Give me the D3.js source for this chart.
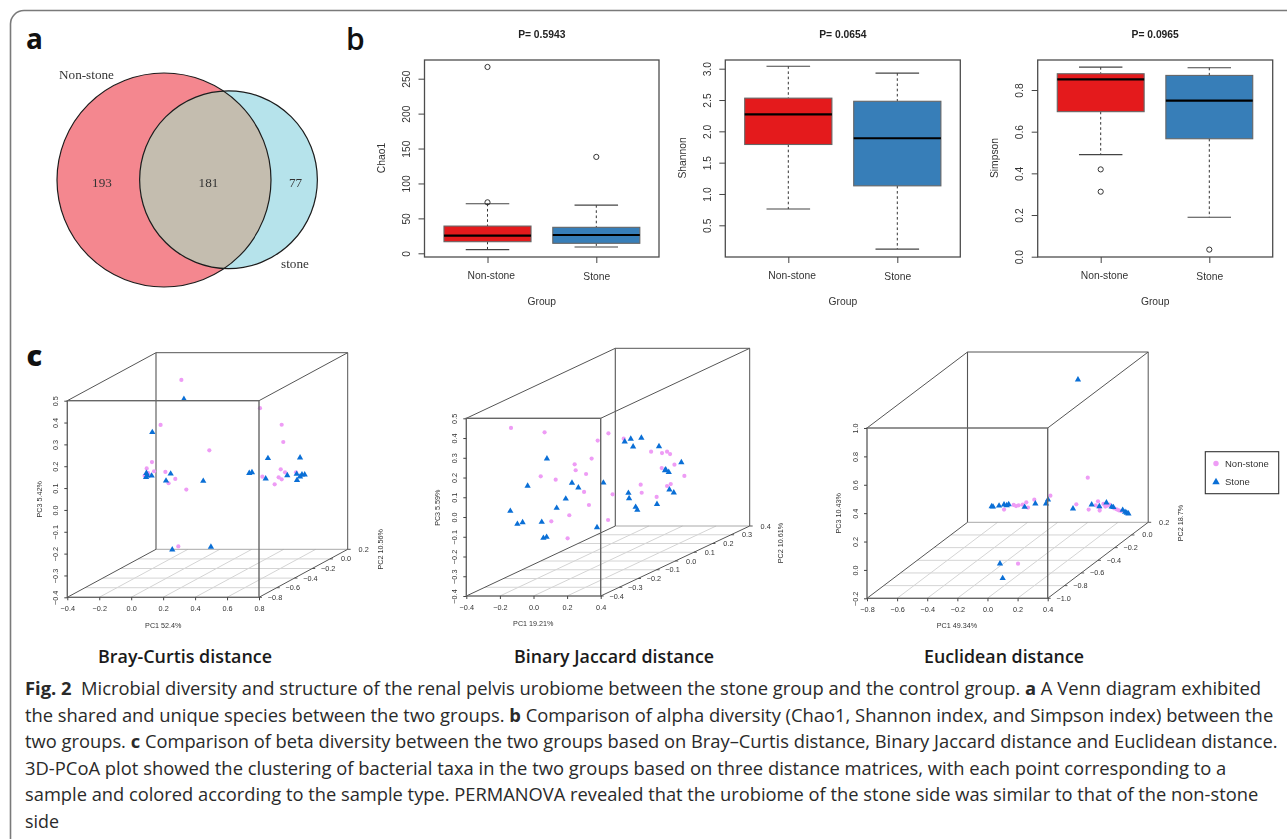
<!DOCTYPE html>
<html><head><meta charset="utf-8">
<script src="https://cdnjs.cloudflare.com/ajax/libs/d3/7.8.5/d3.min.js"></script>
<style>
html,body{margin:0;padding:0;background:#fff;overflow:hidden}
svg{display:block}
.plot{filter:blur(0.35px)}
.r text{font-family:"Liberation Sans",Arial,sans-serif}
</style></head><body>
<svg id="c" width="1287" height="839"></svg>
<script>
// ---------- data ----------
const vennNames = ["Non-stone", "stone"];
const vennCounts = [193, 181, 77];

const groups = ["Non-stone", "Stone"];
// [lower whisker, q1, median, q3, upper whisker, outliers]
const chao1Box = [[5.2, 16.6, 25.2, 39, 71, [266.8, 73]], [9, 14.3, 26.2, 37.2, 69, [138]]];
const shannonBox = [[0.76, 1.79, 2.27, 2.53, 3.04, []], [0.12, 1.13, 1.89, 2.48, 2.93, []]];
const simpsonBox = [[0.49, 0.696, 0.851, 0.878, 0.91, [0.419, 0.312]], [0.189, 0.566, 0.749, 0.87, 0.907, [0.034]]];

// [PC1, PC3] as read against the front face of each cube
const brayNon = [[0.314,0.595],[0.806,0.466],[0.184,0.389],[0.942,0.390],[0.952,0.311],[0.489,0.273],[0.130,0.219],[0.097,0.190],[0.143,0.177],[0.214,0.174],[0.105,0.170],[0.093,0.158],[0.113,0.161],[0.084,0.157],[0.276,0.142],[0.234,0.122],[0.345,0.093],[0.295,-0.167],[0.936,0.186],[0.963,0.172],[1.032,0.172],[0.821,0.152],[0.923,0.149],[0.942,0.140],[0.898,0.117]];
const brayStone = [[0.330,0.506],[0.132,0.354],[0.856,0.235],[1.057,0.238],[0.095,0.167],[0.093,0.149],[0.101,0.155],[0.128,0.155],[0.247,0.164],[0.218,0.132],[0.451,0.131],[0.739,0.167],[0.756,0.170],[0.842,0.142],[0.977,0.157],[1.036,0.163],[1.069,0.160],[1.086,0.160],[1.057,0.151],[1.038,0.135],[0.257,-0.183],[0.499,-0.171]];
const jaccardNon = [[-0.134,0.451],[0.066,0.429],[0.382,0.387],[0.446,0.424],[0.537,0.397],[0.346,0.296],[0.245,0.267],[0.251,0.237],[0.313,0.218],[0.043,0.206],[0.132,0.189],[0.301,0.127],[0.471,0.115],[0.330,0.061],[0.213,0.009],[0.106,-0.022],[0.444,-0.015],[0.203,-0.108],[0.700,0.331],[0.765,0.324],[0.795,0.331],[0.813,0.319],[0.839,0.265],[0.763,0.248],[0.898,0.208],[0.638,0.164],[0.817,0.167],[0.795,0.157],[0.644,0.123],[0.733,0.102]];
const jaccardStone = [[0.080,0.294],[-0.035,0.156],[-0.138,0.029],[-0.096,-0.037],[-0.065,-0.029],[0.049,-0.027],[0.059,-0.108],[0.078,-0.103],[0.138,0.044],[0.192,0.091],[0.229,0.171],[0.267,0.147],[0.416,0.172],[0.378,-0.054],[0.543,0.380],[0.579,0.394],[0.593,0.355],[0.642,0.399],[0.747,0.356],[0.880,0.275],[0.787,0.238],[0.783,0.235],[0.805,0.226],[0.809,0.137],[0.835,0.122],[0.565,0.120],[0.569,0.093],[0.608,0.049],[0.618,0.034],[0.735,0.064]];
const euclidNon = [[0.666,0.650],[0.418,0.523],[0.311,0.495],[0.258,0.476],[0.234,0.460],[0.207,0.455],[0.190,0.450],[0.174,0.458],[0.269,0.439],[0.110,0.425],[0.590,0.462],[0.672,0.425],[0.719,0.455],[0.734,0.483],[0.745,0.436],[0.745,0.418],[0.770,0.465],[0.783,0.446],[0.796,0.453],[0.810,0.460],[0.841,0.434],[0.858,0.427],[0.872,0.420],[0.887,0.415],[0.203,0.044]];
const euclidStone = [[0.601,1.338],[0.402,0.493],[0.389,0.465],[0.318,0.465],[0.247,0.441],[0.141,0.460],[0.128,0.453],[0.110,0.458],[0.077,0.450],[0.037,0.443],[0.028,0.446],[0.568,0.429],[0.692,0.458],[0.743,0.446],[0.790,0.472],[0.825,0.443],[0.836,0.439],[0.898,0.420],[0.914,0.406],[0.925,0.399],[0.936,0.394],[0.083,0.042],[0.101,-0.061]];

const zTicksWide = [-0.4,-0.3,-0.2,-0.1,0,0.1,0.2,0.3,0.4,0.5];
const legendNames = ["Non-stone", "Stone"];
const captionRuns = [
  [["Fig. 2",1],["  Microbial diversity and structure of the renal pelvis urobiome between the stone group and the control group. ",0],["a",1],[" A Venn diagram exhibited",0]],
  [["the shared and unique species between the two groups. ",0],["b",1],[" Comparison of alpha diversity (Chao1, Shannon index, and Simpson index) between the",0]],
  [["two groups. ",0],["c",1],[" Comparison of beta diversity between the two groups based on Bray\u2013Curtis distance, Binary Jaccard distance and Euclidean distance.",0]],
  [["3D-PCoA plot showed the clustering of bacterial taxa in the two groups based on three distance matrices, with each point corresponding to a",0]],
  [["sample and colored according to the sample type. PERMANOVA revealed that the urobiome of the stone side was similar to that of the non-stone",0]],
  [["side",0]]
];
// ---------- drawing ----------
const svg = d3.select("#c");
const SANS = '"Liberation Sans",Arial,sans-serif', SERIF = '"Liberation Serif",serif', OPEN = '"Open Sans","Noto Sans",sans-serif';
const INK = "#333";

// frame
svg.append("path").attr("d", "M10.5,839V24A13.5,13.5 0 0 1 24,10.5H1287").attr("fill", "none").attr("stroke", "#7a7a7a").attr("stroke-width", 1.6);

// panel letters
[["a",26,48.5,700,28],["b",346,49.5,600,30],["c",26.5,365.5,800,29]].forEach(([t,x,y,w,s]) =>
  svg.append("text").attr("x",x).attr("y",y).text(t).attr("font-family",OPEN).attr("font-size",s).attr("font-weight",w).attr("fill","#111"));

// ---------- Venn ----------
(function () {
  const g = svg.append("g").attr("class","plot");
  const r = d3.scaleSqrt().domain([0, vennCounts[0] + vennCounts[1]]).range([0, 107]);
  const cA = {x:164, y:180, r:r(vennCounts[0]+vennCounts[1])};
  const cB = {x:228.5, y:179.7, r:r(vennCounts[1]+vennCounts[2])};
  svg.append("clipPath").attr("id","clipA").append("circle").attr("cx",cA.x).attr("cy",cA.y).attr("r",cA.r);
  g.append("circle").attr("cx",cA.x).attr("cy",cA.y).attr("r",cA.r).attr("fill","#f4878f");
  g.append("circle").attr("cx",cB.x).attr("cy",cB.y).attr("r",cB.r).attr("fill","#b6e3eb");
  g.append("circle").attr("cx",cB.x).attr("cy",cB.y).attr("r",cB.r).attr("fill","#c4bdaf").attr("clip-path","url(#clipA)");
  [cA,cB].forEach(c => g.append("circle").attr("cx",c.x).attr("cy",c.y).attr("r",c.r).attr("fill","none").attr("stroke","#1c1c1c").attr("stroke-width",1.2));
  const t = (s,x,y) => g.append("text").attr("x",x).attr("y",y).attr("text-anchor","middle").attr("font-family",SERIF).attr("font-size",13.2).attr("fill","#333").text(s);
  t(vennNames[0],86.5,79);
  t(vennNames[1],295,268);
  t(vennCounts[0],102,187);
  t(vennCounts[1],208.5,187);
  t(vennCounts[2],295.5,187);
})();

// ---------- box plots ----------
function boxPanel(o) {
  const g = svg.append("g").attr("class","plot r");
  const top = 60, bottom = 257;
  const x = d3.scalePoint().domain(groups).range(o.centers);
  const unit = o.centers[1] - o.centers[0];
  const y = d3.scaleLinear().domain(o.ydom).range(o.yrange);
  const colors = ["#e41a1c", "#377eb8"];
  o.data.forEach((d, i) => {
    const cx = x(groups[i]), hw = unit * 0.4, cap = unit * 0.2;
    const [lo, q1, med, q3, hi, out] = d;
    g.append("line").attr("x1",cx).attr("x2",cx).attr("y1",y(hi)).attr("y2",y(q3)).attr("stroke","#333").attr("stroke-dasharray","2.6,2.6");
    g.append("line").attr("x1",cx).attr("x2",cx).attr("y1",y(q1)).attr("y2",y(lo)).attr("stroke","#333").attr("stroke-dasharray","2.6,2.6");
    [lo, hi].forEach(v => g.append("line").attr("x1",cx-cap).attr("x2",cx+cap).attr("y1",y(v)).attr("y2",y(v)).attr("stroke","#444").attr("stroke-width",1.1));
    g.append("rect").attr("x",cx-hw).attr("width",2*hw).attr("y",y(q3)).attr("height",y(q1)-y(q3)).attr("fill",colors[i]).attr("stroke","#666").attr("stroke-width",1.1);
    g.append("line").attr("x1",cx-hw).attr("x2",cx+hw).attr("y1",y(med)).attr("y2",y(med)).attr("stroke","#000").attr("stroke-width",2.2);
    out.forEach(v => g.append("circle").attr("cx",cx).attr("cy",y(v)).attr("r",2.6).attr("fill","none").attr("stroke","#333").attr("stroke-width",1));
  });
  g.append("rect").attr("x",o.left).attr("y",top).attr("width",o.width).attr("height",bottom-top).attr("fill","none").attr("stroke","#4d4d4d").attr("stroke-width",1.3);
  // axes
  const ya = g.append("g").attr("transform",`translate(${o.left},0)`).call(d3.axisLeft(y).tickValues(o.ticks).tickFormat(o.fmt).tickSize(6));
  ya.select(".domain").remove();
  ya.selectAll("line").attr("stroke","#444");
  ya.selectAll("text").attr("transform","rotate(-90)").attr("x",0).attr("y",-14.8).attr("dy",0).attr("text-anchor","middle").attr("fill",INK).attr("font-size",10.3).attr("font-family",SANS);
  const xa = g.append("g").attr("transform",`translate(0,${bottom})`).call(d3.axisBottom(x).tickSize(6));
  xa.select(".domain").remove();
  xa.selectAll("line").attr("stroke","#444");
  xa.selectAll("text").attr("y",0).attr("dy",0)
    .attr("transform",(d,i)=>`translate(${i===0?3.3:0},${i===0?22:23})`)
    .attr("fill",INK).attr("font-size",10.3).attr("font-family",SANS);
  const mid = o.left + o.width/2;
  g.append("text").attr("x",mid).attr("y",304.5).attr("text-anchor","middle").attr("font-size",10.3).attr("fill",INK).text("Group");
  g.append("text").attr("x",mid).attr("y",37.5).attr("text-anchor","middle").attr("font-size",10.3).attr("font-weight",700).attr("fill","#222").text(o.title);
  g.append("text").attr("transform",`translate(${o.labelX},158) rotate(-90)`).attr("text-anchor","middle").attr("font-size",10.3).attr("fill",INK).text(o.label);
}
boxPanel({left:424.5,width:234.5,centers:[487.5,596.3],ydom:[0,250],yrange:[253.3,78.7],ticks:[0,50,100,150,200,250],fmt:d3.format("d"),data:chao1Box,title:"P= 0.5943",label:"Chao1",labelX:385});
boxPanel({left:725.3,width:235,centers:[788.3,897.3],ydom:[0.5,3],yrange:[225.3,68.7],ticks:[0.5,1,1.5,2,2.5,3],fmt:d3.format(".1f"),data:shannonBox,title:"P= 0.0654",label:"Shannon",labelX:686});
boxPanel({left:1037.7,width:235,centers:[1100.7,1209.3],ydom:[0,0.8],yrange:[256.7,90],ticks:[0,0.2,0.4,0.6,0.8],fmt:d3.format(".1f"),data:simpsonBox,title:"P= 0.0965",label:"Simpson",labelX:998});

// ---------- 3D PCoA panels ----------
const PINK = "#ee9cf5", BLUE = "#0a6fd6";
const tri = d3.symbol().type(d3.symbolTriangle).size(17);
function pcoa(o) {
  const g = svg.append("g").attr("class","plot r");
  const x = d3.scaleLinear().domain(o.xdom).range([o.L, o.R]);
  const z = d3.scaleLinear().domain(o.zdom).range([o.B, o.T]);
  const depth = d3.scaleLinear().domain(o.ydom).range([0, 1]);
  const px = (xv, yv) => x(xv) + depth(yv) * o.dx;
  const py = (zv, yv) => z(zv) + depth(yv) * o.dy;
  const ln = (a,b,c,d,col,w) => g.append("line").attr("x1",a).attr("y1",b).attr("x2",c).attr("y2",d).attr("stroke",col).attr("stroke-width",w);
  const [y0, y1] = o.ydom, [x0, x1] = o.xdom, [z0, z1] = o.zdom;
  // floor grid
  o.xticks.slice(1,-1).forEach(t => ln(px(t,y0),py(z0,y0),px(t,y1),py(z0,y1),"#d4d4d4",1));
  o.yticks.slice(1,-1).forEach(t => ln(px(x0,t),py(z0,t),px(x1,t),py(z0,t),"#d4d4d4",1));
  ln(px(x0,y1),py(z0,y1),px(x1,y1),py(z0,y1),"#a8a8a8",1);
  // back and connecting edges
  ln(px(x0,y1),py(z1,y1),px(x1,y1),py(z1,y1),"#555",1);
  ln(px(x0,y1),py(z1,y1),px(x0,y1),py(z0,y1),"#555",1.1);
  ln(px(x1,y1),py(z1,y1),px(x1,y1),py(z0,y1),"#555",1);
  [[x0,z1],[x1,z1],[x0,z0],[x1,z0]].forEach(([a,c]) => ln(px(a,y0),py(c,y0),px(a,y1),py(c,y1),"#555",1));
  // points
  g.selectAll(".p").data(o.non).join("circle").attr("cx",d=>x(d[0])).attr("cy",d=>z(d[1])).attr("r",2.1).attr("fill",PINK);
  g.selectAll(".t").data(o.stone).join("path").attr("d",tri).attr("transform",d=>`translate(${x(d[0])},${z(d[1])-0.3})`).attr("fill",BLUE);
  // front face
  g.append("rect").attr("x",o.L).attr("y",o.T).attr("width",o.R-o.L).attr("height",o.B-o.T).attr("fill","none").attr("stroke","#666").attr("stroke-width",1.4);
  // axes
  const za = g.append("g").attr("transform",`translate(${o.L},0)`).call(d3.axisLeft(z).tickValues(o.zticks).tickFormat(d3.format(".1f")).tickSize(3));
  za.select(".domain").remove(); za.selectAll("line").attr("stroke","#444");
  za.selectAll("text").attr("transform","rotate(-90)").attr("x",0).attr("y",-9).attr("dy",0).attr("text-anchor","middle").attr("font-size",7.3).attr("fill",INK).attr("font-family",SANS);
  const xa = g.append("g").attr("transform",`translate(0,${o.B})`).call(d3.axisBottom(x).tickValues(o.xticks).tickFormat(d3.format(".1f")).tickSize(3));
  xa.select(".domain").remove(); xa.selectAll("line").attr("stroke","#444");
  xa.selectAll("text").attr("y",13.5).attr("dy",0).attr("font-size",7.3).attr("fill",INK).attr("font-family",SANS);
  o.yticks.forEach(t => {
    ln(px(x1,t),py(z0,t),px(x1,t)+3,py(z0,t),"#444",0.9);
    g.append("text").attr("x",px(x1,t)+16).attr("y",py(z0,t)+2.5).attr("text-anchor","middle").attr("font-size",7.3).attr("fill",INK).text(d3.format(".1f")(t));
  });
  g.append("text").attr("x",o.xl[0]).attr("y",o.xl[1]).attr("text-anchor","middle").attr("font-size",7.2).attr("fill",INK).text(o.xlabel);
  g.append("text").attr("transform",`translate(${o.zl[0]},${o.zl[1]}) rotate(-90)`).attr("text-anchor","middle").attr("font-size",7.2).attr("fill",INK).text(o.zlabel);
  g.append("text").attr("transform",`translate(${o.yl[0]},${o.yl[1]}) rotate(-90)`).attr("text-anchor","middle").attr("font-size",7.2).attr("fill",INK).text(o.ylabel);
  svg.append("text").attr("x",o.sub[0]).attr("y",663).attr("text-anchor","middle").attr("font-family",OPEN).attr("font-weight",600).attr("font-size",17.5).attr("fill","#1a1a1a").attr("textLength",o.sub[1]).attr("lengthAdjust","spacingAndGlyphs").text(o.subtitle);
}
pcoa({L:67.3,R:259,T:400.7,B:597.3,dx:88.7,dy:-48,xdom:[-0.4,0.8],zdom:[-0.4,0.5],ydom:[-0.8,0.2],
  xticks:[-0.4,-0.2,0,0.2,0.4,0.6,0.8],zticks:zTicksWide,yticks:[-0.8,-0.6,-0.4,-0.2,0,0.2],non:brayNon,stone:brayStone,
  xlabel:"PC1 52.4%",zlabel:"PC3 5.42%",ylabel:"PC2 10.56%",xl:[163.3,627.5],zl:[41.5,499.3],yl:[382.5,549.3],subtitle:"Bray-Curtis distance",sub:[185,174]});
pcoa({L:466.3,R:600.7,T:418.3,B:596,dx:149,dy:-70,xdom:[-0.4,0.4],zdom:[-0.4,0.5],ydom:[-0.4,0.4],
  xticks:[-0.4,-0.2,0,0.2,0.4],zticks:zTicksWide,yticks:[-0.4,-0.3,-0.2,-0.1,0,0.1,0.2,0.3,0.4],non:jaccardNon,stone:jaccardStone,
  xlabel:"PC1 19.21%",zlabel:"PC3 5.59%",ylabel:"PC2 10.61%",xl:[533.3,626],zl:[440,507.7],yl:[782.5,543],subtitle:"Binary Jaccard distance",sub:[614,200]});
pcoa({L:867,R:1047.7,T:428,B:598.3,dx:100.5,dy:-76,xdom:[-0.8,0.4],zdom:[-0.2,1],ydom:[-1,0.2],
  xticks:[-0.8,-0.6,-0.4,-0.2,0,0.2,0.4],zticks:[-0.2,0,0.2,0.4,0.6,0.8,1],yticks:[-1,-0.8,-0.6,-0.4,-0.2,0,0.2],non:euclidNon,stone:euclidStone,
  xlabel:"PC1 49.34%",zlabel:"PC3 10.43%",ylabel:"PC2 18.7%",xl:[957,628],zl:[840.8,513.3],yl:[1182.5,523],subtitle:"Euclidean distance",sub:[1004,160]});

// legend
(function () {
  const g = svg.append("g").attr("class","plot r");
  g.append("rect").attr("x",1205.3).attr("y",451.7).attr("width",73.4).attr("height",42).attr("fill","#fff").attr("stroke","#333").attr("stroke-width",1.1);
  const rows = d3.scalePoint().domain(legendNames).range([463.5,482]);
  g.append("circle").attr("cx",1216).attr("cy",rows(legendNames[0])).attr("r",2.7).attr("fill",PINK);
  g.append("path").attr("d",d3.symbol().type(d3.symbolTriangle).size(24)).attr("transform",`translate(1216,${rows(legendNames[1])})`).attr("fill",BLUE);
  legendNames.forEach(n => g.append("text").attr("x",1225).attr("y",rows(n)+3.4).attr("font-size",9.5).attr("fill","#333").text(n));
})();

// caption
const capEnds = [1262, 1274, 1278, 1227, 1259, 59];
const capRow = d3.scaleLinear().domain([0,5]).range([695,828]);
captionRuns.forEach((runs, i) => {
  const t = svg.append("text").attr("font-family",OPEN).attr("font-size",18).attr("fill","#2a2a2a").attr("xml:space","preserve").style("white-space","pre");
  runs.forEach(([s,b]) => t.append("tspan").attr("font-weight",b?700:400).text(s));
  const len = t.node().getComputedTextLength();
  t.attr("transform",`translate(25,${capRow(i)}) scale(${(capEnds[i]-25)/len},1)`);
});
</script>
</body></html>
